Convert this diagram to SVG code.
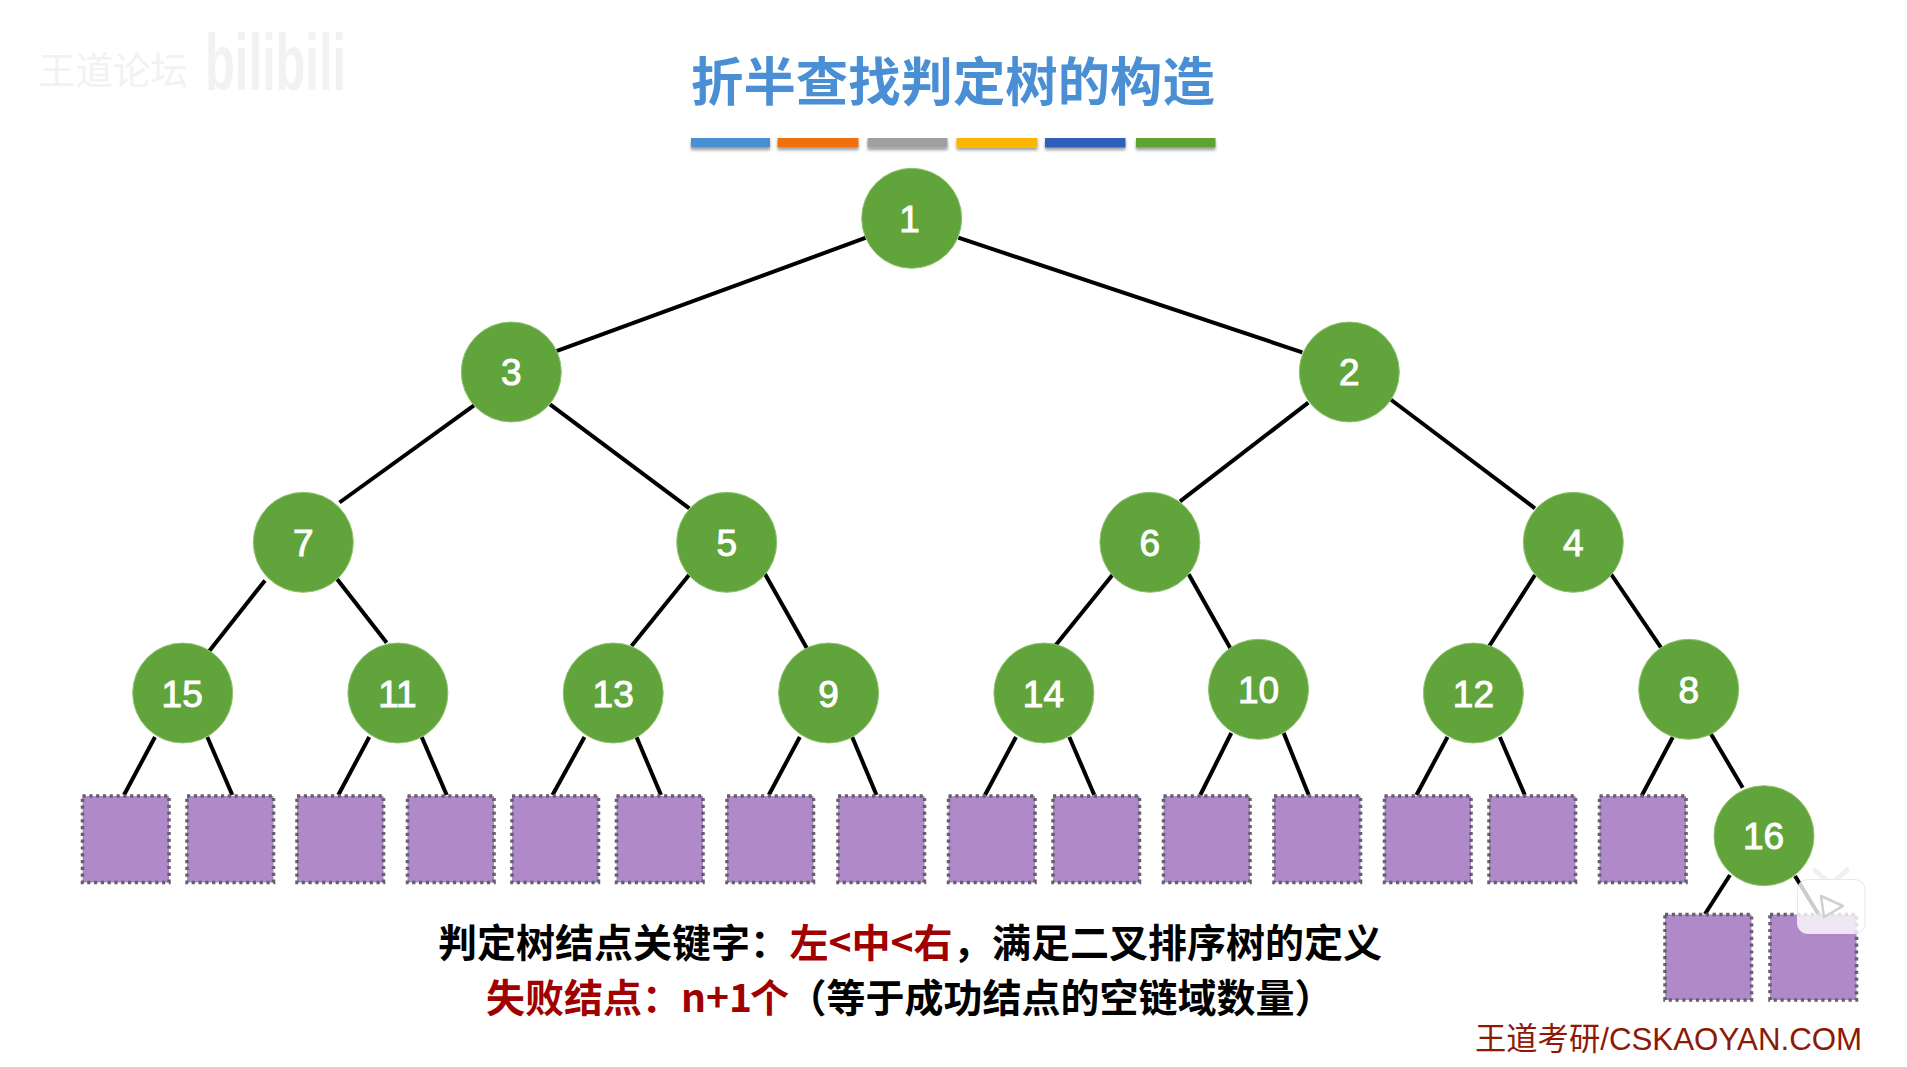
<svg xmlns="http://www.w3.org/2000/svg" width="1907" height="1067" viewBox="0 0 1907 1067">
<style>
.n circle{fill:#62a43c;stroke:#8fc46f;stroke-width:1}
.n text{fill:#fff;stroke:#fff;stroke-width:1;font:37px "Liberation Sans",Arial,sans-serif;text-anchor:middle}
.f rect{fill:#af89c8;stroke:#62606c;stroke-width:3.5;stroke-dasharray:3.2 3.6}
#connectors line{stroke:#000;stroke-width:4}
.cjk{font-family:"Noto Sans CJK SC","Liberation Sans",sans-serif}
.b{fill:#000;font-size:39px;font-weight:700}
.r{fill:#a00000}
</style>
<defs>
<filter id="sh" x="-5%" y="-30%" width="110%" height="190%"><feDropShadow dx="0" dy="2.5" stdDeviation="1.8" flood-color="#000" flood-opacity=".4"/></filter>
</defs>
<rect width="1907" height="1067" fill="#fff"/>
<g id="watermark" fill="#f2f2f2">
<text x="38" y="84" class="cjk" font-size="37.5">王道论坛</text>
<text x="205" y="90" font-family="Liberation Sans,sans-serif" font-weight="700" font-size="80" textLength="141" lengthAdjust="spacingAndGlyphs">bilibili</text>
</g>
<text id="title" x="691" y="100.500" class="cjk" font-size="52.4" font-weight="700" fill="#4a8fd3">折半查找判定树的构造</text>
<g id="bars" filter="url(#sh)">
<rect x="691" y="138" width="79" height="9.5" fill="#4a90d2"/>
<rect x="777.5" y="138" width="81" height="9.5" fill="#f07010"/>
<rect x="867.5" y="138" width="80" height="9.5" fill="#a0a0a0"/>
<rect x="956.5" y="138" width="81" height="9.5" fill="#fdb600"/>
<rect x="1045" y="138" width="80.500" height="9.5" fill="#2f5fbd"/>
<rect x="1136" y="138" width="79.500" height="9.5" fill="#5fa333"/>
</g>
<g id="connectors">
<line x1="866" y1="237.700" x2="555" y2="351.700"/>
<line x1="958.300" y1="237.700" x2="1302.300" y2="352.300"/>
<line x1="474" y1="405.300" x2="339.500" y2="502.500"/>
<line x1="550" y1="404.300" x2="689.300" y2="508.300"/>
<line x1="1308.300" y1="402.700" x2="1180" y2="501.300"/>
<line x1="1390" y1="399" x2="1535" y2="508.300"/>
<line x1="265" y1="580.400" x2="208.300" y2="652.300"/>
<line x1="337" y1="579" x2="386.700" y2="642.700"/>
<line x1="689" y1="575" x2="631.500" y2="646"/>
<line x1="765" y1="574" x2="807" y2="648.500"/>
<line x1="1113" y1="574.300" x2="1055" y2="646"/>
<line x1="1188.700" y1="574.300" x2="1230.500" y2="648.500"/>
<line x1="1535" y1="575" x2="1489.300" y2="646"/>
<line x1="1611" y1="574" x2="1661" y2="647.700"/>
<line x1="155" y1="737" x2="124" y2="795"/>
<line x1="207.300" y1="737" x2="232.300" y2="795"/>
<line x1="369.300" y1="737" x2="338.300" y2="795"/>
<line x1="421.700" y1="737" x2="446.700" y2="795"/>
<line x1="584.500" y1="737" x2="552.500" y2="795"/>
<line x1="636.500" y1="737" x2="661" y2="795"/>
<line x1="799.800" y1="737" x2="768.800" y2="795"/>
<line x1="852.200" y1="737" x2="876.500" y2="795"/>
<line x1="1016" y1="737" x2="985" y2="795"/>
<line x1="1069.300" y1="737" x2="1094.300" y2="795"/>
<line x1="1231.300" y1="733" x2="1200.300" y2="795"/>
<line x1="1283.700" y1="733" x2="1308.700" y2="795"/>
<line x1="1447.500" y1="737" x2="1416.500" y2="795"/>
<line x1="1499.800" y1="737" x2="1524.800" y2="795"/>
<line x1="1672.700" y1="737.300" x2="1641.700" y2="795.700"/>
<line x1="1711" y1="734" x2="1742.700" y2="787.700"/>
<line x1="1730" y1="875" x2="1705" y2="914"/>
<line x1="1795" y1="876" x2="1820" y2="916.700"/>
</g>
<g id="n1" class="n"><circle cx="911.700" cy="218.300" r="50"/><text x="909.500" y="232">1</text></g>
<g id="n3" class="n"><circle cx="511.300" cy="372" r="50"/><text x="511.300" y="385">3</text></g>
<g id="n2" class="n"><circle cx="1349.300" cy="372" r="50"/><text x="1349.300" y="385">2</text></g>
<g id="n7" class="n"><circle cx="303.300" cy="542.300" r="50"/><text x="303.300" y="555.500">7</text></g>
<g id="n5" class="n"><circle cx="726.700" cy="542.300" r="50"/><text x="726.700" y="555.500">5</text></g>
<g id="n6" class="n"><circle cx="1149.900" cy="542.300" r="50"/><text x="1149.900" y="555.500">6</text></g>
<g id="n4" class="n"><circle cx="1573.300" cy="542.300" r="50"/><text x="1573.300" y="555.500">4</text></g>
<g id="n15" class="n"><circle cx="182.700" cy="693" r="50"/><text x="182.200" y="706.500">15</text></g>
<g id="n11" class="n"><circle cx="397.900" cy="693" r="50"/><text x="397.400" y="706.500">11</text></g>
<g id="n13" class="n"><circle cx="613.200" cy="693" r="50"/><text x="613.200" y="706.500">13</text></g>
<g id="n9" class="n"><circle cx="828.600" cy="693" r="50"/><text x="828.600" y="706.500">9</text></g>
<g id="n14" class="n"><circle cx="1043.900" cy="693" r="50"/><text x="1043.400" y="706.500">14</text></g>
<g id="n10" class="n"><circle cx="1258.500" cy="689.300" r="50"/><text x="1258.500" y="703">10</text></g>
<g id="n12" class="n"><circle cx="1473.400" cy="693" r="50"/><text x="1473.400" y="706.500">12</text></g>
<g id="n8" class="n"><circle cx="1688.700" cy="689.300" r="50"/><text x="1688.700" y="703">8</text></g>
<g id="n16" class="n"><circle cx="1764" cy="835.700" r="50"/><text x="1763.500" y="849">16</text></g>
<g id="f1" class="f"><rect x="82.500" y="796" width="86.500" height="86.500"/></g>
<g id="f2" class="f"><rect x="187" y="796" width="86.500" height="86.500"/></g>
<g id="f3" class="f"><rect x="297" y="796" width="86.500" height="86.500"/></g>
<g id="f4" class="f"><rect x="407.500" y="796" width="86.500" height="86.500"/></g>
<g id="f5" class="f"><rect x="512" y="796" width="86.500" height="86.500"/></g>
<g id="f6" class="f"><rect x="616.500" y="796" width="86.500" height="86.500"/></g>
<g id="f7" class="f"><rect x="727" y="796" width="86.500" height="86.500"/></g>
<g id="f8" class="f"><rect x="838" y="796" width="86.500" height="86.500"/></g>
<g id="f9" class="f"><rect x="948.500" y="796" width="86.500" height="86.500"/></g>
<g id="f10" class="f"><rect x="1053" y="796" width="86.500" height="86.500"/></g>
<g id="f11" class="f"><rect x="1163.500" y="796" width="86.500" height="86.500"/></g>
<g id="f12" class="f"><rect x="1274" y="796" width="86.500" height="86.500"/></g>
<g id="f13" class="f"><rect x="1384.500" y="796" width="86.500" height="86.500"/></g>
<g id="f14" class="f"><rect x="1489" y="796" width="86.500" height="86.500"/></g>
<g id="f15" class="f"><rect x="1599.500" y="796" width="86.500" height="86.500"/></g>
<g id="f16" class="f"><rect x="1665" y="914.500" width="86.500" height="85.500"/></g>
<g id="f17" class="f"><rect x="1770" y="914.500" width="86.500" height="85.500"/></g>
<text id="line1" y="957" class="cjk b"><tspan x="438">判定树结点关键字：</tspan><tspan x="789.500" class="r">左&lt;中&lt;右</tspan><tspan x="953">，满足二叉排序树的定义</tspan></text>
<text id="line2" y="1012" class="cjk b"><tspan x="486" class="r">失败结点：n+1</tspan><tspan x="750" class="r">个</tspan><tspan x="787.500">（等于成功结点的空链域数量）</tspan></text>
<text id="footer" x="1475" y="1050" fill="#8c1a06" font-size="31.300" font-family="Liberation Sans,Noto Sans CJK SC,sans-serif">王道考研/CSKAOYAN.COM</text>
<g id="tv-icon">
<path d="M1815 870L1826 880M1847 870L1836 880" stroke="#f1eef4" stroke-width="5" stroke-linecap="round" fill="none"/>
<rect x="1797.500" y="879.500" width="67.500" height="54" rx="10" fill="#fff" fill-opacity=".8" stroke="#e9e6ee" stroke-width="1"/>
<path d="M1821 896L1843 906L1824 917Z" fill="#fff" stroke="#cfcfd4" stroke-width="2.500" stroke-linejoin="round"/>
</g>
</svg>
